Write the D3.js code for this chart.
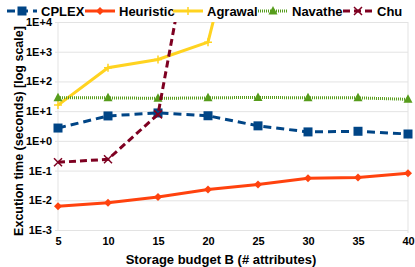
<!DOCTYPE html>
<html>
<head>
<meta charset="utf-8">
<script src="https://cdn.jsdelivr.net/npm/d3@7"></script>
<style>
  body { margin: 0; background: #fff; }
  text { font-family: "Liberation Sans", Arial, sans-serif; font-weight: bold; }
</style>
</head>
<body>
<div id="chart"></div>
<script>
var budgets = [5, 10, 15, 20, 25, 30, 35, 40];
var cplex = [2.7, 6.9, 8.7, 7.0, 3.2, 2.0, 2.1, 1.7];
var heuristic = [0.0063, 0.0083, 0.013, 0.023, 0.034, 0.055, 0.059, 0.081];
var agrawal = [16, 290, 550, 2100, 1e10];
var navathe = [28, 28, 27, 28, 29, 28, 28, 25];
var chu = [0.19, 0.24, 7.8, 1e10];
var yTicks = [1e-3, 1e-2, 1e-1, 1e0, 1e1, 1e2, 1e3, 1e4];
var yTickLabels = ["1E-3", "1E-2", "1E-1", "1E+0", "1E+1", "1E+2", "1E+3", "1E+4"];

var series = [
    {name: "CPLEX", values: cplex, color: "#004586", dash: "8,5", marker: "square"},
    {name: "Heuristic", values: heuristic, color: "#ff420e", dash: null, marker: "diamond"},
    {name: "Agrawal", values: agrawal, color: "#ffd320", dash: null, marker: "plus"},
    {name: "Navathe", values: navathe, color: "#579d1c", dash: "1,1", marker: "triangle"},
    {name: "Chu", values: chu, color: "#7e0021", dash: "7,4", marker: "cross"}
];

var margin = {top: 22, right: 7, bottom: 37, left: 58},
    width = 415 - margin.left - margin.right,
    height = 267 - margin.top - margin.bottom;

var root = d3.select("#chart").append("svg")
    .attr("width", 415)
    .attr("height", 267);

var svg = root.append("g")
    .attr("transform", "translate(" + margin.left + "," + margin.top + ")");

var x = d3.scaleLinear().domain([5, 40]).range([0, width]);
var y = d3.scaleLog().domain([1e-3, 1e4]).range([height, 0]);

// grid
svg.append("g")
    .call(d3.axisLeft(y).tickValues(yTicks).tickSize(-width).tickFormat(""))
    .call(function(g) {
        g.select(".domain").remove();
        g.selectAll(".tick line").attr("stroke", "#e3e3e3").attr("x1", -3);
    });
svg.append("line").attr("x1", 0).attr("x2", 0).attr("y1", 0).attr("y2", height).attr("stroke", "#e3e3e3");
svg.append("line").attr("x1", width).attr("x2", width).attr("y1", 0).attr("y2", height + 3).attr("stroke", "#e3e3e3");

// axes labels
var yAxis = svg.append("g")
    .call(d3.axisLeft(y).tickValues(yTicks).tickSize(0).tickPadding(6)
        .tickFormat(function(d, i) { return yTickLabels[i]; }));
yAxis.select(".domain").remove();
yAxis.selectAll("text").style("font-size", "11px").attr("fill", "#000")
    .style("font-family", "'Liberation Sans', Arial, sans-serif").style("font-weight", "bold");

var xAxis = svg.append("g")
    .attr("transform", "translate(0," + height + ")")
    .call(d3.axisBottom(x).tickValues(budgets).tickSize(0).tickPadding(7));
xAxis.select(".domain").remove();
xAxis.selectAll("text").style("font-size", "11px").attr("fill", "#000")
    .style("font-family", "'Liberation Sans', Arial, sans-serif").style("font-weight", "bold");

svg.append("text")
    .attr("x", width / 2 - 12)
    .attr("y", height + 34)
    .attr("text-anchor", "middle")
    .style("font-size", "13px")
    .text("Storage budget B (# attributes)");

svg.append("text")
    .attr("transform", "rotate(-90)")
    .attr("x", -109)
    .attr("y", -35)
    .attr("text-anchor", "middle")
    .style("font-size", "12.5px")
    .text("Excution time (seconds) [log scale]");

// lines
svg.append("clipPath").attr("id", "clip")
    .append("rect").attr("x", -6).attr("y", 0).attr("width", width + 12).attr("height", height + 6);

var plot = svg.append("g").attr("clip-path", "url(#clip)");

var line = d3.line()
    .x(function(d, i) { return x(budgets[i]); })
    .y(function(d) { return y(d); });

function drawMarker(g, type, color, cx, cy) {
    if (type == "square") {
        g.append("rect").attr("x", cx - 4.5).attr("y", cy - 4.5).attr("width", 9).attr("height", 9)
            .attr("fill", color);
    } else if (type == "diamond") {
        g.append("path").attr("d", "M" + cx + "," + (cy - 4) + "L" + (cx + 4) + "," + cy + "L" + cx + "," + (cy + 4) + "L" + (cx - 4) + "," + cy + "Z")
            .attr("fill", color);
    } else if (type == "triangle") {
        g.append("path").attr("d", "M" + cx + "," + (cy - 5) + "L" + (cx + 4.5) + "," + (cy + 3.5) + "L" + (cx - 4.5) + "," + (cy + 3.5) + "Z")
            .attr("fill", color);
    } else if (type == "plus") {
        g.append("path").attr("d", "M" + cx + "," + (cy - 4) + "V" + (cy + 4) + "M" + (cx - 4) + "," + cy + "H" + (cx + 4))
            .attr("stroke", color).attr("stroke-width", 1.5);
    } else if (type == "cross") {
        g.append("path").attr("d", "M" + (cx - 4) + "," + (cy - 4) + "L" + (cx + 4) + "," + (cy + 4) + "M" + (cx + 4) + "," + (cy - 4) + "L" + (cx - 4) + "," + (cy + 4))
            .attr("stroke", color).attr("stroke-width", 1.5);
    }
}

series.forEach(function(s) {
    plot.append("path")
        .datum(s.values)
        .attr("d", line)
        .attr("fill", "none")
        .attr("stroke", s.color)
        .attr("stroke-width", 3)
        .attr("stroke-dasharray", s.dash);
    s.values.forEach(function(v, i) {
        if (y(v) >= 0) drawMarker(plot, s.marker, s.color, x(budgets[i]), y(v));
    });
});

// legend
var legendX = [7, 85, 173, 258, 343];
var legend = root.append("g");
series.forEach(function(s, i) {
    var lg = legend.append("g").attr("transform", "translate(" + legendX[i] + ",11)");
    lg.append("line").attr("x1", 0).attr("x2", 30).attr("y1", 0).attr("y2", 0)
        .attr("stroke", s.color).attr("stroke-width", 3).attr("stroke-dasharray", s.dash);
    drawMarker(lg, s.marker, s.color, 15, 0);
    lg.append("text").attr("x", 34).attr("y", 4.5).style("font-size", "13px").text(s.name);
});
</script>
</body>
</html>
